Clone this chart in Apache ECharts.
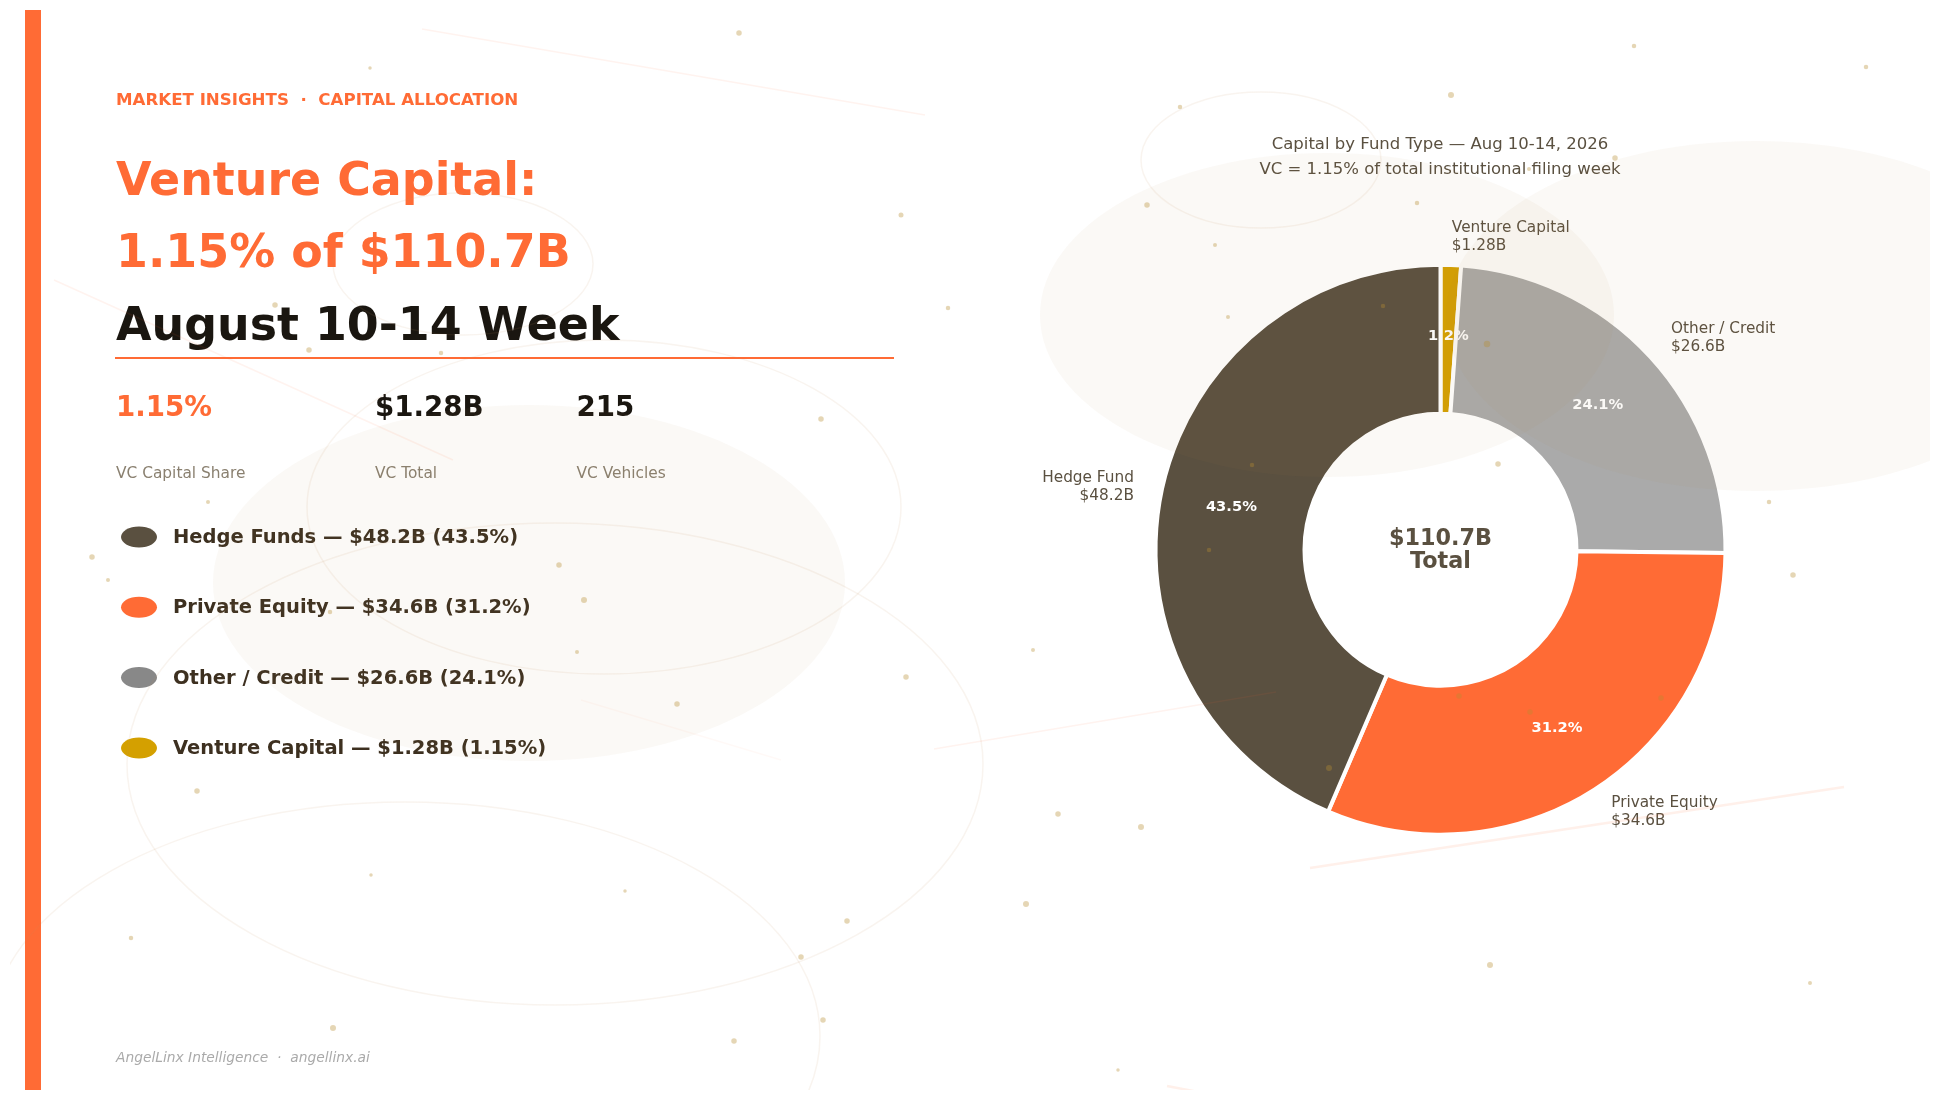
<!DOCTYPE html>
<html lang="en" style="background: #ffffff;height: 100%">
<head>
    <meta charset="utf-8"/>
    <title>Venture Capital: 1.15% of $110.7B</title>
    <script type="text/javascript" src="https://cdn.jsdelivr.net/npm/echarts@6/dist/echarts.min.js"></script>
</head>
<body style="margin: 0;height: 100%">
<div id="chart" style="width: 1940px;height: 1100px"></div>
<script>
    // donut values, clockwise from the top
    const pieNames = ['Venture Capital', 'Other / Credit', 'Private Equity', 'Hedge Fund'];
    const pieValues = [1.28, 26.6, 34.6, 48.2];
    const pieAmounts = ['$1.28B', '$26.6B', '$34.6B', '$48.2B'];
    const piePercents = ['1.2%', '24.1%', '31.2%', '43.5%'];
    const pieColors = ['#d4a000', '#aaaaaa', '#ff6b35', '#5a5040'];

    // left hand list
    const listNames = ['Hedge Funds', 'Private Equity', 'Other / Credit', 'Venture Capital'];
    const listAmounts = ['$48.2B', '$34.6B', '$26.6B', '$1.28B'];
    const listPercents = ['43.5%', '31.2%', '24.1%', '1.15%'];
    const listColors = ['#5a5040', '#ff6b35', '#888888', '#d4a000'];

    const statValues = ['1.15%', '$1.28B', '215'];
    const statLabels = ['VC Capital Share', 'VC Total', 'VC Vehicles'];

    // background decoration, page pixels
    const bgBlobs = [[529, 583, 316, 178], [1327, 315, 287, 162], [1756, 316, 310, 175]];
    const bgRings = [[1261, 160, 120, 68], [463, 264, 130, 71], [604, 507, 297, 167], [555, 764, 428, 241], [405, 1036, 415, 234]];
    const bgLines = [
        [422, 29, 925, 115, 1.5, 0.08], [54, 280, 453, 460, 1.5, 0.08], [581, 700, 781, 760, 1.5, 0.04],
        [934, 749, 1276, 692, 1.5, 0.08], [1310, 868, 1844, 787, 2.5, 0.1], [1167, 1086, 1240, 1100, 2.5, 0.1]
    ];
    const bgDots = [
        [739, 33, 5.5], [370, 68, 3.5], [901, 215, 5], [948, 308, 4.5], [275, 305, 5.5], [309, 350, 5.5], [441, 353, 4.5],
        [821, 419, 5.5], [208, 502, 4], [1634, 46, 4.5], [1866, 67, 4.5], [1451, 95, 6], [1180, 107, 4.5], [1615, 158, 5.5],
        [1529, 169, 4], [1147, 205, 5.5], [1417, 203, 4.5], [1215, 245, 4], [1383, 306, 4.5], [1228, 317, 4],
        [1487, 344, 6.5], [1498, 464, 5.5], [1252, 465, 4.5], [1769, 502, 4.5], [1209, 550, 4.5], [92, 557, 5.5], [108, 580, 4],
        [559, 565, 5.5], [584, 600, 6], [330, 612, 4.5], [577, 652, 4], [677, 704, 5.5], [906, 677, 5.5], [197, 791, 5.5],
        [371, 875, 3.5], [625, 891, 3.5], [131, 938, 4.5], [847, 921, 5.5], [801, 957, 5.5], [823, 1020, 5.5], [333, 1028, 6],
        [734, 1041, 5.5], [1793, 575, 5.5], [1033, 650, 4], [1459, 696, 5.5], [1530, 712, 5.5], [1661, 698, 5.5], [1329, 768, 6],
        [1058, 814, 5.5], [1141, 827, 6], [1026, 904, 6], [1490, 965, 6], [1810, 983, 4], [1118, 1070, 3.5]
    ];

    const FONT = '"DejaVu Sans"';
    const chart = echarts.init(document.getElementById('chart'), null, {renderer: 'canvas'});

    function text(str, x, y, size, color, weight, align, style) {
        return {
            type: 'text', x: x, y: y, z: 3,
            style: {
                text: str, fill: color, font: (style || 'normal') + ' ' + (weight || 'normal') + ' ' + size + 'px ' + FONT,
                textAlign: align || 'left', textVerticalAlign: 'middle'
            }
        };
    }

    const graphics = [
        {type: 'rect', z: 3, shape: {x: 25, y: 10, width: 16, height: 1080}, style: {fill: '#ff6b35'}},
        text('MARKET INSIGHTS  ·  CAPITAL ALLOCATION', 116, 100.5, 16.65, '#ff6b35', 'bold'),
        text('Venture Capital:', 116, 183, 45.9, '#ff6b35', 'bold'),
        text('1.15% of $110.7B', 116, 255, 45.9, '#ff6b35', 'bold'),
        text('August 10-14 Week', 116, 328, 45.9, '#1a1610', 'bold'),
        {type: 'rect', z: 3, shape: {x: 115, y: 357, width: 779, height: 2}, style: {fill: '#ff6b35'}},
        text('Capital by Fund Type — Aug 10-14, 2026', 1440, 144.5, 16.5, '#5a5040', 'normal', 'center'),
        text('VC = 1.15% of total institutional filing week', 1440, 170, 16.5, '#5a5040', 'normal', 'center'),
        text('$110.7B', 1440.5, 539, 22.3, '#5a5040', 'bold', 'center'),
        text('Total', 1440.5, 562, 22.3, '#5a5040', 'bold', 'center'),
        text('AngelLinx Intelligence  ·  angellinx.ai', 116, 1058, 13.8, '#aaaaaa', 'normal', 'left', 'italic')
    ];

    const statX = [116, 375, 576.5];
    statValues.forEach(function (v, i) {
        graphics.push(text(v, statX[i], 408.5, 27.7, i === 0 ? '#ff6b35' : '#1a1610', 'bold'));
        graphics.push(text(statLabels[i], statX[i], 474, 15.4, '#8a8070'));
    });

    listNames.forEach(function (name, i) {
        const y = 537 + i * 70.3;
        graphics.push({type: 'ellipse', z: 3, shape: {cx: 139, cy: y, rx: 18, ry: 10.5}, style: {fill: listColors[i]}});
        graphics.push(text(name + ' — ' + listAmounts[i] + ' (' + listPercents[i] + ')', 173, y + 1, 19.5, '#3d3020', 'bold'));
    });

    const pieCenter = [1440.5, 549.7];
    const pieRadius = [136, 285];

    chart.setOption({
        animation: false,
        backgroundColor: '#ffffff',
        graphic: graphics,
        grid: {left: 10, top: 10, right: 10, bottom: 10},
        xAxis: {type: 'value', min: 10, max: 1930, show: false},
        yAxis: {type: 'value', min: 10, max: 1090, inverse: true, show: false},
        series: [
            {
                type: 'pie',
                z: 2,
                center: pieCenter,
                radius: pieRadius,
                startAngle: 90,
                clockwise: true,
                avoidLabelOverlap: false,
                silent: true,
                data: pieNames.map(function (name, i) {
                    return {name: name, value: pieValues[i], itemStyle: {color: pieColors[i]}};
                }),
                itemStyle: {borderColor: '#ffffff', borderWidth: 4},
                label: {
                    position: 'outside',
                    distanceToLabelLine: 0,
                    fontFamily: FONT,
                    fontSize: 15.3,
                    lineHeight: 18,
                    padding: [2.4, 0, 0, 0],
                    color: '#5a5040',
                    formatter: function (p) {
                        return p.name + '\n' + pieAmounts[p.dataIndex];
                    }
                },
                labelLine: {show: false, length: 28, length2: 0}
            },
            {
                // second pass only carries the percent labels
                type: 'pie',
                z: 3,
                center: pieCenter,
                radius: pieRadius,
                startAngle: 90,
                clockwise: true,
                silent: true,
                data: pieNames.map(function (name, i) {
                    return {name: name, value: pieValues[i]};
                }),
                itemStyle: {color: 'rgba(0,0,0,0)', borderWidth: 0},
                label: {
                    position: 'inside',
                    fontFamily: FONT,
                    fontSize: 14.7,
                    fontWeight: 'bold',
                    color: '#ffffff',
                    formatter: function (p) {
                        return piePercents[p.dataIndex];
                    }
                },
                labelLine: {show: false}
            },
            {
                type: 'custom',
                coordinateSystem: 'cartesian2d',
                z: 5,
                clip: true,
                silent: true,
                data: bgBlobs,
                encode: {x: 0, y: 1},
                renderItem: function (params, api) {
                    const c = api.coord([api.value(0), api.value(1)]);
                    return {
                        type: 'ellipse',
                        shape: {cx: c[0], cy: c[1], rx: api.value(2), ry: api.value(3)},
                        style: {fill: 'rgba(170,140,85,0.05)'}
                    };
                }
            },
            {
                type: 'custom',
                coordinateSystem: 'cartesian2d',
                z: 5,
                clip: true,
                silent: true,
                data: bgRings,
                encode: {x: 0, y: 1},
                renderItem: function (params, api) {
                    const c = api.coord([api.value(0), api.value(1)]);
                    return {
                        type: 'ellipse',
                        shape: {cx: c[0], cy: c[1], rx: api.value(2), ry: api.value(3)},
                        style: {fill: 'none', stroke: 'rgba(200,150,100,0.1)', lineWidth: 1.5}
                    };
                }
            },
            {
                type: 'custom',
                coordinateSystem: 'cartesian2d',
                z: 5,
                clip: true,
                silent: true,
                data: bgLines,
                encode: {x: [0, 2], y: [1, 3]},
                renderItem: function (params, api) {
                    const a = api.coord([api.value(0), api.value(1)]);
                    const b = api.coord([api.value(2), api.value(3)]);
                    return {
                        type: 'line',
                        shape: {x1: a[0], y1: a[1], x2: b[0], y2: b[1]},
                        style: {stroke: 'rgba(255,107,53,' + api.value(5) + ')', lineWidth: api.value(4)}
                    };
                }
            },
            {
                type: 'scatter',
                z: 5,
                silent: true,
                data: bgDots,
                symbolSize: function (v) {
                    return v[2];
                },
                itemStyle: {color: 'rgba(184,140,50,0.45)'}
            }
        ]
    });
</script>
</body>
</html>
